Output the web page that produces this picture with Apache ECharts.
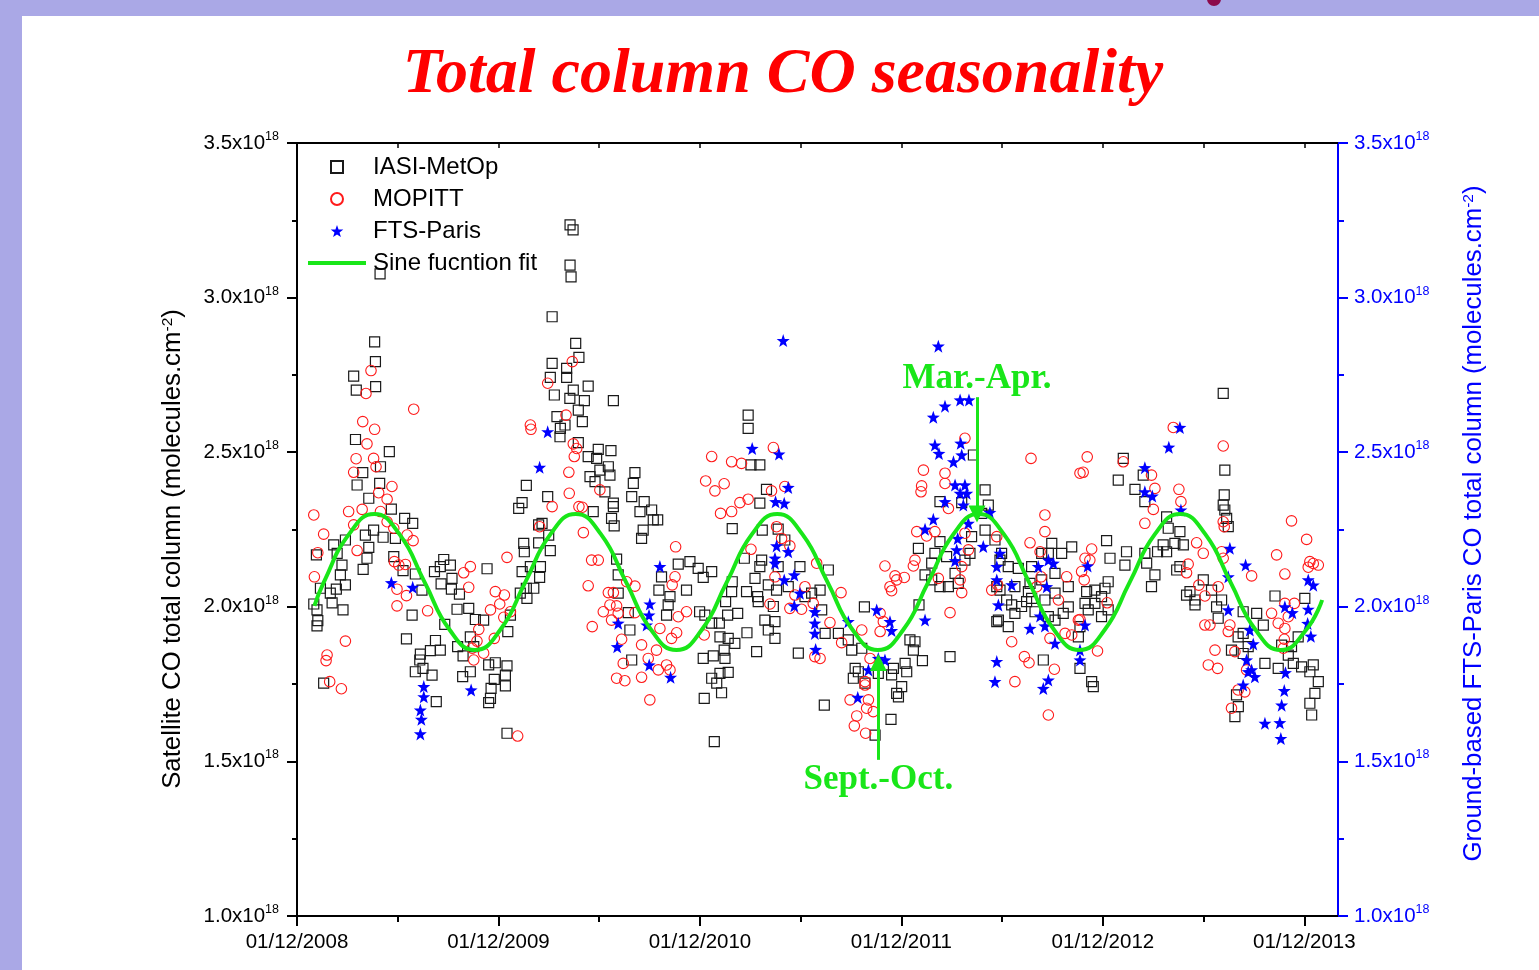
<!DOCTYPE html>
<html>
<head>
<meta charset="utf-8">
<script src="https://cdn.jsdelivr.net/npm/echarts@6.0.0/dist/echarts.min.js"></script>
<style>
html,body{margin:0;padding:0;background:#fff;}
#chart{width:1539px;height:970px;}
</style>
</head>
<body>
<div id="chart"></div>
<script>
// Dates are decimal years, values in units of 1e18 molecules.cm-2
const xTickLabels = ['01/12/2008','01/12/2009','01/12/2010','01/12/2011','01/12/2012','01/12/2013'];
const yTicks = [1.0, 1.5, 2.0, 2.5, 3.0, 3.5];

const iasiData = [
[2009.302,2.857],[2009.306,2.793],[2009.198,2.746],[2009.211,2.701],[2009.307,2.712],[2010.183,2.938],[2010.183,2.787],[2010.174,2.742],[2010.194,2.685],[2010.207,2.615],[2010.224,2.577],[2009.207,2.541],[2009.375,2.502],[2009.243,2.434],[2009.331,2.453],[2009.215,2.394],[2009.327,2.399],[2009.273,2.351],[2009.385,2.316],[2009.451,2.286],[2009.491,2.270],[2009.297,2.248],[2009.256,2.232],[2009.344,2.225],[2009.405,2.221],[2009.099,2.200],[2009.157,2.216],[2009.273,2.192],[2009.013,2.168],[2009.116,2.173],[2009.264,2.157],[2009.140,2.135],[2009.245,2.121],[2009.132,2.103],[2009.157,2.071],[2009.112,2.057],[2009.033,2.060],[2009.082,2.044],[2009.000,2.009],[2009.091,2.013],[2009.145,1.990],[2009.016,1.990],[2009.020,1.955],[2009.016,1.938],[2009.397,2.162],[2009.504,2.106],[2009.443,2.117],[2009.537,2.054],[2009.645,2.153],[2009.678,2.135],[2009.599,2.114],[2009.632,2.074],[2009.686,2.092],[2009.683,2.057],[2009.723,2.041],[2009.860,2.123],[2009.711,1.992],[2009.769,1.995],[2009.802,1.959],[2009.843,1.957],[2009.488,1.973],[2009.650,1.943],[2009.460,1.896],[2009.604,1.891],[2009.628,1.860],[2009.579,1.858],[2009.529,1.847],[2009.526,1.828],[2009.504,1.790],[2009.542,1.801],[2009.587,1.779],[2009.608,1.693],[2009.714,1.871],[2009.741,1.841],[2009.739,1.774],[2009.777,1.790],[2009.868,1.812],[2009.901,1.819],[2009.959,1.809],[2009.951,1.779],[2009.896,1.765],[2009.951,1.744],[2009.880,1.736],[2009.877,1.704],[2009.868,1.690],[2009.777,1.903],[2009.794,1.871],[2009.959,1.591],[2009.049,1.753],[2010.055,2.393],[2010.034,2.337],[2010.017,2.318],[2010.161,2.356],[2010.133,2.270],[2010.116,2.265],[2010.166,2.232],[2010.116,2.207],[2010.042,2.205],[2010.045,2.178],[2010.174,2.182],[2010.034,2.114],[2010.075,2.130],[2010.125,2.130],[2010.121,2.095],[2010.092,2.060],[2010.055,2.060],[2010.025,2.044],[2010.058,2.027],[2009.976,1.973],[2009.963,1.920],[2009.628,2.130],
[2009.329,3.077],[2010.272,3.235],[2010.287,3.219],[2010.272,3.105],[2010.277,3.067],
[2010.300,2.852],[2010.316,2.807],[2010.255,2.771],[2010.255,2.742],[2010.362,2.714],[2010.288,2.701],[2010.271,2.674],[2010.343,2.667],[2010.313,2.636],[2010.487,2.667],[2010.333,2.599],[2010.247,2.588],[2010.222,2.550],[2010.412,2.509],[2010.475,2.505],[2010.313,2.531],[2010.362,2.486],[2010.404,2.480],[2010.462,2.453],[2010.371,2.421],[2010.420,2.442],[2010.470,2.426],[2010.396,2.405],[2010.445,2.372],[2010.487,2.335],[2010.487,2.324],[2010.387,2.308],[2010.478,2.286],[2010.491,2.262],[2010.594,2.434],[2010.586,2.399],[2010.578,2.356],[2010.640,2.340],[2010.619,2.308],[2010.677,2.313],[2010.685,2.281],[2010.707,2.281],[2010.635,2.248],[2010.627,2.221],[2010.503,2.154],[2010.511,2.103],[2010.511,2.044],[2010.561,1.981],[2010.569,1.925],[2010.578,1.828],[2010.726,2.097],[2010.713,2.054],[2010.768,2.033],[2010.759,2.006],[2010.751,1.973],[2010.809,2.138],[2010.867,2.146],[2010.908,2.124],[2010.933,2.095],[2010.975,2.114],[2010.850,2.054],[2011.156,2.620],[2011.156,2.577],[2011.170,2.459],[2011.214,2.459],[2011.077,2.253],[2011.077,2.081],[2011.074,2.049],[2011.044,2.017],[2011.104,1.979],[2011.150,1.916],[2011.054,1.973],[2011.013,1.947],[2010.975,1.947],[2010.915,1.984],[2010.941,1.973],[2011.016,1.903],[2011.057,1.898],[2011.090,1.882],[2011.037,1.860],[2010.983,1.841],[2010.933,1.833],[2011.041,1.833],[2011.057,1.788],[2011.016,1.785],[2010.975,1.769],[2011.000,1.753],[2011.024,1.722],[2010.938,1.704],[2010.988,1.564],[2011.198,1.855],[2011.256,1.925],[2011.289,1.952],[2011.289,1.898],[2011.239,1.957],[2011.148,2.049],[2011.190,2.092],[2011.206,2.017],[2011.203,2.033],[2011.226,2.248],[2011.247,2.380],[2011.214,2.335],[2011.137,2.157],[2011.223,2.151],[2011.214,2.130],[2011.305,2.251],[2011.338,2.216],[2011.305,2.130],[2011.355,2.065],[2011.297,2.054],[2011.413,2.130],[2011.438,2.033],[2011.471,2.044],[2011.405,1.850],[2011.281,2.001],[2011.256,2.071],
[2011.554,2.119],[2011.513,2.054],[2011.521,1.990],[2011.538,1.914],[2011.604,1.914],[2011.653,1.893],[2011.670,1.860],[2011.720,1.866],[2011.733,2.000],[2011.687,1.801],[2011.703,1.790],[2011.678,1.769],[2011.736,1.753],[2011.877,1.801],[2011.868,1.780],[2011.918,1.742],[2011.902,1.709],[2011.893,1.720],[2011.935,1.817],[2011.943,1.790],[2011.984,1.887],[2011.959,1.893],[2011.976,1.860],[2012.021,1.826],[2012.158,1.839],[2011.802,1.785],[2011.865,1.636],[2011.534,1.682],[2011.786,1.585],[2012.004,2.006],[2012.067,2.087],[2012.034,2.103],[2012.067,2.141],[2012.108,2.211],[2012.083,2.173],[2012.001,2.189],[2012.141,2.162],[2012.108,2.065],[2012.150,2.065],[2012.183,2.108],[2012.199,2.076],[2012.257,2.173],[2012.232,2.151],[2012.265,2.227],[2012.108,2.340],[2012.216,2.337],[2012.274,2.491],[2012.332,2.378],[2012.348,2.329],[2012.315,2.302],[2012.332,2.248],[2012.381,2.216],[2012.414,2.173],[2012.406,2.151],[2012.447,2.130],[2012.390,2.065],[2012.406,2.054],[2012.439,2.022],[2012.464,2.006],[2012.398,1.957],[2012.390,1.952],[2012.447,1.936],[2012.480,1.979],[2012.513,2.001],[2012.538,2.017],[2012.547,2.049],[2012.555,2.076],[2012.480,2.065],[2012.563,2.130],[2012.613,2.173],[2012.646,2.173],[2012.663,2.205],[2012.712,2.173],[2012.762,2.194],[2012.679,2.108],[2012.613,2.087],[2012.629,2.022],[2012.679,2.044],[2012.745,2.065],[2012.745,2.000],[2012.720,1.979],[2012.646,1.968],[2012.621,1.828],[2012.679,1.957],[2012.497,2.124],[2012.563,2.027],[2012.580,1.984],
[2012.836,2.049],[2012.877,2.054],[2012.943,2.081],[2012.927,2.060],[2012.910,2.033],[2012.877,2.011],[2012.828,2.011],[2012.844,1.990],[2012.910,1.968],[2012.943,1.990],[2012.803,1.936],[2012.795,1.903],[2012.803,1.801],[2012.861,1.758],[2012.869,1.742],[2012.935,2.214],[2012.952,2.157],[2013.026,2.135],[2013.034,2.178],[2012.993,2.410],[2013.018,2.480],[2013.076,2.380],[2013.117,2.426],[2013.125,2.340],[2013.134,2.141],[2013.175,2.103],[2013.158,2.065],[2013.125,2.173],[2013.188,2.178],[2013.233,2.178],[2013.274,2.205],[2013.299,2.243],[2013.316,2.200],[2013.241,2.254],[2013.216,2.200],[2013.233,2.291],[2013.283,2.119],[2013.299,2.130],[2013.349,2.049],[2013.374,2.022],[2013.415,2.087],[2013.456,2.054],[2013.506,2.022],[2013.489,1.963],[2013.481,2.000],[2013.374,2.006],[2013.332,2.038],[2013.514,2.690],[2013.522,2.442],[2013.519,2.362],[2013.514,2.329],[2013.522,2.313],[2013.531,2.286],[2013.539,2.259],[2013.555,1.860],[2013.588,1.903],[2013.613,1.914],[2013.613,1.849],[2013.638,1.871],[2013.680,1.979],[2013.713,1.941],[2013.721,1.817],[2013.771,2.035],[2013.804,1.876],[2013.853,1.871],[2013.862,1.817],[2013.903,1.806],[2013.919,2.027],[2013.944,1.790],[2013.961,1.812],[2013.986,1.758],[2013.969,1.720],[2013.944,1.688],[2013.953,1.650],[2013.580,1.715],[2013.589,1.677],[2013.572,1.645],[2013.613,1.984],[2013.837,1.844],[2013.886,1.903],[2013.787,1.801]
];

const mopittData = [
[2009.284,2.764],[2009.259,2.690],[2009.496,2.639],[2009.243,2.599],[2009.302,2.574],[2009.264,2.527],[2009.210,2.479],[2009.297,2.480],[2009.309,2.453],[2009.198,2.435],[2009.388,2.389],[2009.322,2.369],[2009.364,2.348],[2009.173,2.308],[2009.240,2.315],[2009.000,2.297],[2009.331,2.308],[2009.198,2.265],[2009.364,2.275],[2009.397,2.254],[2009.049,2.235],[2009.463,2.232],[2009.493,2.214],[2009.215,2.182],[2009.020,2.175],[2009.400,2.146],[2009.422,2.135],[2009.455,2.137],[2009.413,2.057],[2009.460,2.036],[2009.413,2.003],[2009.565,1.987],[2009.003,2.097],[2009.157,1.889],[2009.066,1.844],[2009.061,1.826],[2009.079,1.758],[2009.137,1.735],[2009.744,2.110],[2009.777,2.130],[2009.769,2.063],[2009.901,2.049],[2009.946,2.038],[2009.923,2.009],[2009.877,1.990],[2009.976,1.984],[2009.943,1.966],[2009.819,1.927],[2009.810,1.889],[2009.896,1.898],[2009.786,1.866],[2009.843,1.850],[2009.794,1.828],[2009.959,2.160],[2010.075,2.588],[2010.078,2.574],[2010.161,2.723],[2010.183,2.324],[2010.121,2.259],[2010.012,1.582],
[2010.283,2.793],[2010.252,2.620],[2010.288,2.527],[2010.305,2.512],[2010.293,2.486],[2010.266,2.435],[2010.268,2.367],[2010.316,2.324],[2010.333,2.322],[2010.420,2.378],[2010.338,2.240],[2010.379,2.151],[2010.412,2.151],[2010.362,2.068],[2010.462,2.046],[2010.487,2.046],[2010.553,2.081],[2010.594,2.067],[2010.437,1.984],[2010.470,2.006],[2010.503,2.003],[2010.478,1.957],[2010.382,1.936],[2010.511,1.979],[2010.528,1.895],[2010.536,1.817],[2010.503,1.769],[2010.544,1.761],[2010.627,1.772],[2010.668,1.699],[2010.627,1.877],[2010.660,1.833],[2010.701,1.860],[2010.710,1.796],[2010.751,1.812],[2010.768,1.796],[2010.718,1.930],[2010.776,1.898],[2010.801,1.916],[2010.793,2.097],[2010.779,2.071],[2010.796,2.194],[2010.594,1.981],[2010.809,1.968],[2010.850,1.984],[2010.938,1.909],[2010.975,2.486],[2011.074,2.469],[2011.123,2.464],[2010.945,2.407],[2010.991,2.375],[2011.037,2.398],[2011.019,2.302],[2011.074,2.308],[2011.115,2.337],[2011.156,2.348],[2011.281,2.515],[2011.272,2.375],[2011.338,2.389],[2011.297,2.259],[2011.322,2.221],[2011.363,2.197],[2011.170,2.186],[2011.289,2.097],[2011.264,2.009],[2011.363,1.995],[2011.388,2.038],[2011.421,1.992],[2011.438,2.065],[2011.479,2.011],[2011.487,1.839],[2011.496,2.141],
[2012.232,2.545],[2012.026,2.442],[2012.133,2.432],[2012.017,2.391],[2012.014,2.372],[2012.133,2.399],[2012.150,2.318],[2011.993,2.243],[2012.042,2.229],[2012.083,2.243],[2012.232,2.238],[2012.249,2.184],[2012.216,2.130],[2012.208,2.087],[2012.216,2.046],[2012.100,2.092],[2011.984,2.151],[2011.976,2.132],[2011.835,2.132],[2011.885,2.100],[2011.893,2.087],[2011.931,2.095],[2011.860,2.065],[2011.868,2.052],[2011.617,2.046],[2011.562,1.949],[2011.513,1.833],[2011.620,1.884],[2011.720,1.925],[2011.811,1.979],[2011.827,1.952],[2011.811,1.920],[2011.761,1.833],[2011.736,1.758],[2011.736,1.747],[2011.753,1.699],[2011.662,1.699],[2011.744,1.672],[2011.695,1.647],[2011.683,1.615],[2011.739,1.591],[2011.777,1.661],[2012.158,1.981],[2012.365,2.054],[2012.394,2.071],[2012.390,2.227],[2012.464,1.887],[2012.527,1.839],[2012.550,1.819],[2012.480,1.758],[2012.676,1.798],[2012.646,1.650],[2012.560,2.480],[2012.629,2.297],[2012.629,2.243],[2012.555,2.207],[2012.605,2.178],[2012.610,2.097],[2012.588,2.065],[2012.696,2.022],[2012.737,2.097],[2012.762,1.909],[2012.729,1.914],[2012.654,1.898],[2012.795,1.957],[2012.803,2.432],
[2012.839,2.485],[2012.819,2.435],[2012.828,2.157],[2012.861,2.187],[2012.852,2.151],[2012.811,2.114],[2012.824,2.087],[2012.938,2.013],[2012.803,1.959],[2012.890,1.857],[2013.018,2.469],[2013.158,2.426],[2013.175,2.383],[2013.167,2.315],[2013.125,2.270],[2013.294,2.380],[2013.304,2.340],[2013.382,2.207],[2013.415,2.173],[2013.340,2.138],[2013.332,2.110],[2013.393,2.070],[2013.423,2.035],[2013.489,2.065],[2013.514,2.520],[2013.514,2.275],[2013.519,2.259],[2013.506,2.178],[2013.514,2.157],[2013.423,1.941],[2013.448,1.941],[2013.547,1.941],[2013.539,1.920],[2013.473,1.860],[2013.440,1.812],[2013.486,1.801],[2013.572,1.855],[2013.630,1.796],[2013.621,1.725],[2013.588,1.731],[2013.555,1.672],[2013.655,2.100],[2013.754,1.979],[2013.787,1.947],[2013.820,1.930],[2013.817,1.895],[2013.812,1.866],[2013.779,2.168],[2013.820,2.106],[2013.853,2.278],[2013.928,2.218],[2013.944,2.146],[2013.961,2.140],[2013.986,2.135],[2013.936,2.128],[2013.820,2.011],[2013.867,2.011],[2013.837,1.968],[2013.266,2.580]
];

const ftsData = [
[2009.385,2.078],[2009.491,2.063],[2009.546,1.742],[2009.546,1.709],[2009.529,1.666],[2009.534,1.636],[2009.529,1.589],[2009.781,1.731],[2010.161,2.566],[2010.121,2.451],
[2011.330,2.861],[2011.176,2.512],[2011.309,2.494],[2011.355,2.386],[2011.292,2.340],[2011.335,2.335],[2011.297,2.197],[2011.355,2.178],[2011.289,2.157],[2011.289,2.141],[2011.335,2.087],[2011.385,2.103],[2011.413,2.044],[2011.385,2.003],[2011.487,1.984],[2011.487,1.947],[2011.487,1.914],[2011.491,1.862],[2010.718,2.130],[2010.668,2.009],[2010.664,1.973],[2010.652,1.941],[2010.511,1.947],[2010.506,1.871],[2010.665,1.812],[2010.771,1.772],
[2012.100,2.843],[2012.208,2.669],[2012.252,2.669],[2012.133,2.649],[2012.075,2.613],[2012.083,2.523],[2012.103,2.496],[2012.211,2.529],[2012.216,2.491],[2012.175,2.469],[2012.183,2.394],[2012.232,2.394],[2012.208,2.367],[2012.241,2.367],[2012.133,2.340],[2012.224,2.329],[2012.249,2.270],[2012.075,2.283],[2012.034,2.251],[2012.196,2.221],[2012.191,2.184],[2012.183,2.149],[2012.323,2.195],[2012.356,2.305],[2012.406,2.173],[2012.390,2.130],[2012.390,2.087],[2012.464,2.071],[2012.398,2.006],[2012.034,1.957],[2011.794,1.990],[2011.860,1.952],[2011.868,1.923],[2011.653,1.952],[2011.802,1.833],[2011.835,1.828],[2011.753,1.796],[2011.700,1.707],[2012.555,1.930],[2012.605,1.970],[2012.629,1.938],[2012.679,1.882],[2012.646,1.763],[2012.621,1.736],[2012.390,1.823],[2012.381,1.758],[2012.671,2.141],[2012.646,2.151],[2012.596,2.130],[2012.638,2.065],
[2013.299,2.580],[2013.244,2.516],[2013.125,2.450],[2013.125,2.372],[2013.162,2.358],[2013.304,2.313],[2013.547,2.189],[2013.625,2.135],[2013.539,2.097],[2013.539,1.990],[2012.841,2.132],[2012.828,1.941],[2012.803,1.860],[2012.803,1.828],[2013.646,1.925],[2013.663,1.880],[2013.630,1.828],[2013.655,1.796],[2013.671,1.774],[2013.638,1.790],[2013.613,1.747],[2013.820,2.000],[2013.857,1.981],[2013.936,2.087],[2013.961,2.070],[2013.936,1.992],[2013.933,1.946],[2013.949,1.905],[2013.823,1.787],[2013.817,1.729],[2013.804,1.682],[2013.795,1.625],[2013.721,1.623],[2013.800,1.574]
];

// Sine function fit
const sineData = [
[2009.003,2.003],[2009.05,2.08],[2009.175,2.235],[2009.30,2.30],[2009.425,2.235],[2009.55,2.08],[2009.675,1.925],[2009.80,1.86],[2009.925,1.925],
[2010.05,2.08],[2010.175,2.235],[2010.30,2.30],[2010.425,2.235],[2010.55,2.08],[2010.675,1.925],[2010.80,1.86],[2010.925,1.925],
[2011.05,2.08],[2011.175,2.235],[2011.30,2.30],[2011.425,2.235],[2011.55,2.08],[2011.675,1.925],[2011.80,1.86],[2011.925,1.925],
[2012.05,2.08],[2012.175,2.235],[2012.30,2.30],[2012.425,2.235],[2012.55,2.08],[2012.675,1.925],[2012.80,1.86],[2012.925,1.925],
[2013.05,2.08],[2013.175,2.235],[2013.30,2.30],[2013.425,2.235],[2013.55,2.08],[2013.675,1.925],[2013.80,1.86],[2013.925,1.925],[2014.005,2.022]
];

// annotation arrows: [decimal year, from value, to value]
const arrowMarApr = [2012.292, 2.678, 2.30];
const arrowSepOct = [2011.802, 1.505, 1.82];

const X0 = 2008.9167; // 01/12/2008
const toX = d => +(d - X0).toFixed(4);
const conv = arr => arr.map(p => [toX(p[0]), p[1]]);

const GREEN = '#19e619';
const FONT = 'Liberation Sans, Arial, sans-serif';
const STAR = 'path://M0,-10 L2.35,-3.24 L9.51,-3.09 L3.8,1.24 L5.88,8.09 L0,4.2 L-5.88,8.09 L-3.8,1.24 L-9.51,-3.09 L-2.35,-3.24 Z';
const SQUARE = 'path://M0,0 L10,0 L10,10 L0,10 Z';

const supLabel = (color) => ({
  formatter: v => '{a|' + v.toFixed(1) + 'x10}{b|18}',
  rich: {
    a: {fontSize: 20.5, fontFamily: FONT, color: color, lineHeight: 26},
    b: {fontSize: 12.5, fontFamily: FONT, color: color, verticalAlign: 'top', lineHeight: 13}
  }
});

const chart = echarts.init(document.getElementById('chart'), null, {renderer: 'canvas'});
const option = {
  animation: false,
  backgroundColor: '#ffffff',
  graphic: [
    {type: 'rect', shape: {x: 0, y: 0, width: 1539, height: 16}, style: {fill: '#aaa8e6'}, z: 0, silent: true},
    {type: 'rect', shape: {x: 0, y: 0, width: 22, height: 970}, style: {fill: '#aaa8e6'}, z: 0, silent: true},
    {type: 'circle', shape: {cx: 1214, cy: -1, r: 7}, style: {fill: '#8c0a4a'}, z: 1, silent: true},
    {type: 'text', x: 783, y: 75, style: {text: 'Total column CO seasonality', fill: '#ff0000',
      font: 'italic bold 64px "Liberation Serif", "Times New Roman", serif', textAlign: 'center', textVerticalAlign: 'middle'}, z: 10}
  ],
  grid: {left: 297, top: 143, width: 1041, height: 773, containLabel: false, outerBoundsMode: 'none', show: false},
  legend: {
    orient: 'vertical', left: 306, top: 155, itemWidth: 58, itemHeight: 12, itemGap: 8,
    selectedMode: false, padding: 0, symbolKeepAspect: true,
    textStyle: {fontSize: 24, fontFamily: FONT, color: '#000', lineHeight: 24, padding: [0,0,0,2]},
    data: [
      {name: 'IASI-MetOp', icon: SQUARE},
      {name: 'MOPITT'},
      {name: 'FTS-Paris'},
      {name: 'Sine fucntion fit', itemStyle: {opacity: 0}, lineStyle: {width: 4, color: GREEN}}
    ]
  },
  xAxis: [
    {
      type: 'value', min: 0, max: 5.167, interval: 1, position: 'bottom',
      axisLine: {show: true, onZero: false, lineStyle: {color: '#000', width: 2}},
      axisTick: {show: true, inside: false, length: 10, lineStyle: {color: '#000', width: 2}, customValues: [0,1,2,3,4,5]},
      axisLabel: {show: true, customValues: [0,1,2,3,4,5], margin: 16, fontSize: 20.5, fontFamily: FONT, color: '#000',
        formatter: v => xTickLabels[Math.round(v)] || ''},
      splitLine: {show: false}
    },
    {
      type: 'value', min: 0, max: 5.167, interval: 0.5, position: 'bottom',
      axisLine: {show: false, onZero: false},
      axisTick: {show: true, inside: false, length: 6, lineStyle: {color: '#000', width: 2}, customValues: [0.5,1.5,2.5,3.5,4.5]},
      axisLabel: {show: false}, splitLine: {show: false}
    },
    {
      type: 'value', min: 0, max: 5.167, interval: 0.5, position: 'top',
      axisLine: {show: true, onZero: false, lineStyle: {color: '#000', width: 2}},
      axisTick: {show: true, inside: true, length: 5, lineStyle: {color: '#000', width: 1.5}, customValues: [0.5,1,1.5,2,2.5,3,3.5,4,4.5,5]},
      axisLabel: {show: false}, splitLine: {show: false}
    }
  ],
  yAxis: [
    {
      type: 'value', min: 1, max: 3.5, interval: 0.5, position: 'left',
      axisLine: {show: true, onZero: false, lineStyle: {color: '#000', width: 2}},
      axisTick: {show: true, inside: false, length: 10, lineStyle: {color: '#000', width: 2}},
      minorTick: {show: true, splitNumber: 2, length: 5, lineStyle: {color: '#000', width: 2}},
      axisLabel: Object.assign({margin: 18}, supLabel('#000')),
      splitLine: {show: false}, minorSplitLine: {show: false},
      name: 'Satellite CO total column (molecules.cm{s|-2})',
      nameLocation: 'middle', nameGap: 111, nameRotate: 90, nameMoveOverlap: false,
      nameTextStyle: {fontSize: 25.8, fontFamily: FONT, color: '#000', padding: [0, 39, 0, 0],
        rich: {s: {fontSize: 15.5, fontFamily: FONT, color: '#000', verticalAlign: 'top', lineHeight: 15}}}
    },
    {
      type: 'value', min: 1, max: 3.5, interval: 0.5, position: 'right',
      axisLine: {show: true, onZero: false, lineStyle: {color: '#0000ff', width: 2}},
      axisTick: {show: true, inside: false, length: 10, lineStyle: {color: '#0000ff', width: 2}},
      minorTick: {show: true, splitNumber: 2, length: 6, lineStyle: {color: '#0000ff', width: 2}},
      axisLabel: Object.assign({margin: 16}, supLabel('#0000ff')),
      splitLine: {show: false}, minorSplitLine: {show: false},
      name: 'Ground-based FTS-Paris CO total column (molecules.cm{s|-2})',
      nameLocation: 'middle', nameGap: 123, nameRotate: 90, nameMoveOverlap: false,
      nameTextStyle: {fontSize: 25.8, fontFamily: FONT, color: '#0000ff', padding: [0, 0, 0, 12],
        rich: {s: {fontSize: 15.5, fontFamily: FONT, color: '#0000ff', verticalAlign: 'top', lineHeight: 15}}}
    }
  ],
  series: [
    {
      name: 'IASI-MetOp', type: 'scatter', xAxisIndex: 0, yAxisIndex: 0,
      symbol: 'rect', symbolSize: 10,
      itemStyle: {color: 'rgba(0,0,0,0)', borderColor: '#1a1a1a', borderWidth: 1.2, opacity: 1},
      data: conv(iasiData), z: 2
    },
    {
      name: 'MOPITT', type: 'scatter', xAxisIndex: 0, yAxisIndex: 0,
      symbol: 'circle', symbolSize: 10.5,
      itemStyle: {color: 'rgba(0,0,0,0)', borderColor: '#ff1a1a', borderWidth: 1.1, opacity: 1},
      data: conv(mopittData), z: 3
    },
    {
      name: 'FTS-Paris', type: 'scatter', xAxisIndex: 0, yAxisIndex: 1,
      symbol: STAR, symbolSize: 13,
      itemStyle: {color: '#0000ff', opacity: 1},
      data: conv(ftsData), z: 4
    },
    {
      name: 'Sine fucntion fit', type: 'line', xAxisIndex: 0, yAxisIndex: 0,
      smooth: 0.5, symbol: 'none', showSymbol: false,
      lineStyle: {color: GREEN, width: 4},
      itemStyle: {color: GREEN},
      data: conv(sineData), z: 5,
      markLine: {
        silent: true, symbol: ['none', 'triangle'], symbolSize: 17,
        lineStyle: {color: GREEN, width: 3, type: 'solid'},
        itemStyle: {color: GREEN},
        label: {show: true, position: 'start', distance: 4, color: GREEN,
          fontFamily: '"Liberation Serif", "Times New Roman", serif', fontWeight: 'bold', fontSize: 35},
        emphasis: {disabled: true},
        data: [
          [{coord: [toX(arrowMarApr[0]), arrowMarApr[1]], label: {formatter: 'Mar.-Apr.', distance: 1}}, {coord: [toX(arrowMarApr[0]), arrowMarApr[2]]}],
          [{coord: [toX(arrowSepOct[0]), arrowSepOct[1]], label: {formatter: 'Sept.-Oct.', distance: 3}}, {coord: [toX(arrowSepOct[0]), arrowSepOct[2]]}]
        ]
      }
    }
  ]
};
chart.setOption(option);
</script>
</body>
</html>
